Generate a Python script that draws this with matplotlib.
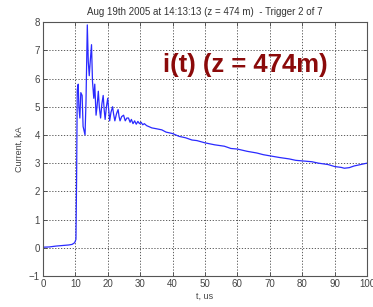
#!/usr/bin/env python3
import matplotlib
matplotlib.use('Agg')
import matplotlib.pyplot as plt

# current waveform (t in us, current in kA)
t_us = [0, 2, 4, 6, 8, 9.0, 9.8, 10.2, 10.4, 10.6, 10.9, 11.1, 11.4, 11.7, 12.1, 12.4,
        13.0, 13.3, 13.7, 14.0, 14.3, 14.6, 15.0, 15.3, 15.7, 16.0, 16.4, 16.7,
        17.1, 17.4, 17.8, 18.2, 18.6, 18.9, 19.2, 19.6, 20.0, 20.3, 20.6, 21.0,
        21.5, 21.8, 22.2, 22.7, 23.2, 23.5, 23.8, 24.3, 24.9, 25.4, 25.9, 26.4,
        26.9, 27.3, 27.8, 28.3, 28.8, 29.3, 29.8, 30.3, 30.8, 31.3, 32.0, 33.6,
        35.0, 36.7, 38.0, 40.0, 42.0, 44.0, 46.0, 47.5, 50.0, 53.0, 56.0, 58.0,
        60.0, 63.0, 66.0, 68.0, 70.0, 73.0, 76.0, 78.0, 80.0, 83.0, 85.0, 88.0,
        90.0, 92.0, 93.0, 94.5, 96.0, 98.0, 100.0]
current_ka = [0.02, 0.03, 0.06, 0.08, 0.1, 0.12, 0.18, 0.3, 2.5, 5.6, 5.8, 5.0, 4.6, 5.5, 5.4, 4.3,
              4.0, 5.2, 7.9, 6.6, 6.1, 6.6, 7.2, 5.9, 5.3, 5.8, 4.7, 5.0,
              5.55, 5.0, 4.6, 5.1, 5.4, 4.9, 4.55, 5.0, 5.3, 4.9, 4.5, 4.8,
              5.0, 4.75, 4.5, 4.75, 4.9, 4.65, 4.5, 4.65, 4.7, 4.5, 4.6, 4.6,
              4.45, 4.55, 4.4, 4.5, 4.38, 4.48, 4.4, 4.45, 4.36, 4.4, 4.33, 4.25,
              4.22, 4.18, 4.1, 4.05, 3.95, 3.9, 3.82, 3.8, 3.72, 3.65, 3.6, 3.52,
              3.5, 3.42, 3.36, 3.3, 3.26, 3.2, 3.15, 3.1, 3.08, 3.05, 3.0, 2.95,
              2.88, 2.85, 2.82, 2.84, 2.9, 2.95, 3.0]

title = 'Aug 19th 2005 at 14:13:13 (z = 474 m)  - Trigger 2 of 7'
label = 'i(t) (z = 474m)'
x_ticks = list(range(0, 101, 10))
y_ticks = list(range(-1, 9))


def main():
    plt.rcParams['font.family'] = ['Liberation Sans', 'DejaVu Sans']
    fig = plt.figure(figsize=(3.73, 3.07), dpi=100)
    ax = fig.add_axes([0.115, 0.101, 0.869, 0.827])

    ax.plot(t_us, current_ka, color='#2a2aff', linewidth=0.9)

    ax.set_xlim(0, 100)
    ax.set_ylim(-1, 8)
    ax.set_xticks(x_ticks)
    ax.set_yticks(y_ticks)
    ax.tick_params(direction='in', length=3, width=0.6, labelsize=7,
                   top=True, right=True, colors='#444444', pad=2)
    ax.grid(True, linestyle=(0, (1.5, 2)), color='#444444', linewidth=0.6)
    for sp in ax.spines.values():
        sp.set_color('#555555')
        sp.set_linewidth(0.8)

    ax.set_title(title, fontsize=7, color='#333333', pad=5)
    ax.set_xlabel('t, us', fontsize=6.5, color='#444444', labelpad=2)
    ax.set_ylabel('Current, kA', fontsize=6.5, color='#444444', labelpad=4)

    ax.text(0.372, 0.83, label, transform=ax.transAxes, fontsize=18.5,
            fontweight='bold', color='#8b0a0a', va='center', ha='left')

    fig.savefig('out.png', dpi=100)


if __name__ == '__main__':
    main()
